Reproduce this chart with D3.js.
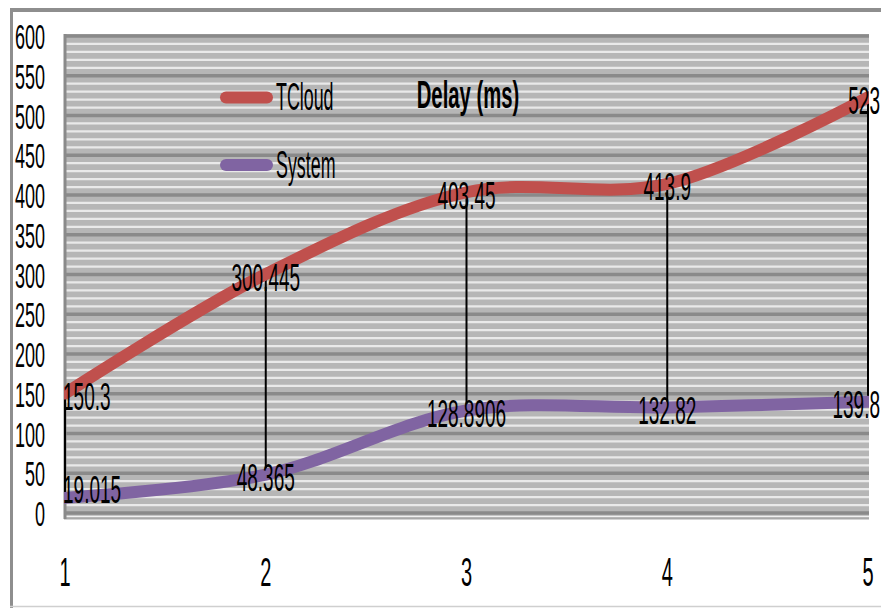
<!DOCTYPE html>
<html>
<head>
<meta charset="utf-8">
<script src="https://cdn.jsdelivr.net/npm/d3@7"></script>
<style>
  body { margin: 0; background: #fff; }
  svg { display: block; font-family: "Liberation Sans", Arial, sans-serif; }
</style>
</head>
<body>
<svg id="chart" width="881" height="608"></svg>
<script>
// data
const categories = [1, 2, 3, 4, 5];
const tcloud = [150.3, 300.445, 403.45, 413.9, 523];
const system = [19.015, 48.365, 128.8906, 132.82, 139.8];
const tcloudLabels = ["150.3", "300.445", "403.45", "413.9", "523"];
const systemLabels = ["19.015", "48.365", "128.8906", "132.82", "139.8"];
const yTicks = [0, 50, 100, 150, 200, 250, 300, 350, 400, 450, 500, 550, 600];
const seriesNames = ["TCloud", "System"];
const seriesColors = ["#c0504d", "#8064a2"];

const svg = d3.select("#chart");

const x = d3.scaleLinear().domain([1, 5]).range([65, 868]);
const y = d3.scaleLinear().domain([0, 600]).range([513, 36]);

// squeezed text, like the reference
function label(g, px, py, str, size, sx, anchor, bold) {
    return g.append("text")
        .attr("transform", "translate(" + px + "," + py + ") scale(" + sx + ",1)")
        .attr("text-anchor", anchor)
        .attr("font-size", size)
        .attr("font-weight", bold ? "bold" : "normal")
        .attr("fill", "#000")
        .text(str);
}

svg.append("clipPath").attr("id", "plotclip")
    .append("rect").attr("x", 64).attr("y", 30).attr("width", 805).attr("height", 489);

// plot area
const plot = svg.append("g");
plot.append("rect")
    .attr("x", 64).attr("y", 34)
    .attr("width", 805).attr("height", 485)
    .attr("fill", "#b6b6b6");

// minor grid every 10
const minor = d3.range(0, 601, 10).filter(v => v % 50 !== 0);
plot.selectAll(".minor").data(minor).enter().append("line")
    .attr("x1", 64).attr("x2", 869)
    .attr("y1", d => y(d)).attr("y2", d => y(d))
    .attr("stroke", "#e9e9e9").attr("stroke-width", 2.2);

// major grid every 50
plot.selectAll(".major").data(yTicks).enter().append("line")
    .attr("x1", 64).attr("x2", 869)
    .attr("y1", d => y(d)).attr("y2", d => y(d))
    .attr("stroke", "#8a8a8a").attr("stroke-width", 3.5);

// floor strip below zero
plot.append("line")
    .attr("x1", 64).attr("x2", 869).attr("y1", 516.5).attr("y2", 516.5)
    .attr("stroke", "#f0f0f0").attr("stroke-width", 1.5);
plot.append("line")
    .attr("x1", 64).attr("x2", 869).attr("y1", 518.5).attr("y2", 518.5)
    .attr("stroke", "#a8a8a8").attr("stroke-width", 2);
plot.append("line")
    .attr("x1", 65).attr("x2", 65).attr("y1", 34).attr("y2", 519)
    .attr("stroke", "#8a8a8a").attr("stroke-width", 3);

// high-low lines
plot.selectAll(".hilo").data(categories).enter().append("line")
    .attr("x1", d => x(d)).attr("x2", d => x(d))
    .attr("y1", (d, i) => y(tcloud[i])).attr("y2", (d, i) => y(system[i]))
    .attr("stroke", "#000").attr("stroke-width", 2);

// series
const line = d3.line()
    .x((d, i) => x(categories[i]))
    .y(d => y(d))
    .curve(d3.curveCatmullRom.alpha(0.5));

const lines = plot.append("g").attr("clip-path", "url(#plotclip)");
[tcloud, system].forEach(function(s, k) {
    lines.append("path")
        .attr("d", line(s))
        .attr("fill", "none")
        .attr("stroke", seriesColors[k])
        .attr("stroke-width", 12)
        .attr("stroke-linecap", "round");
});

// data labels
const labels = svg.append("g");
function drawLabels(vals, texts) {
    vals.forEach(function(v, i) {
        var cx = x(categories[i]);
        var cy = Math.min(y(v) + 3, y(0) - 24);
        var anchor = "middle";
        if (i === 0) { anchor = "start"; cx = cx - 2; }
        if (i === vals.length - 1) { anchor = "end"; cx = 880; }
        label(labels, cx, cy + 13.5, texts[i], 38, 0.5, anchor, false);
    });
}
drawLabels(tcloud, tcloudLabels);
drawLabels(system, systemLabels);

// y axis labels
const yAxis = svg.append("g");
yTicks.forEach(function(t) {
    label(yAxis, 45, y(t) + 13, String(t), 36, 0.5, "end", false);
});

// x axis labels
const xAxis = svg.append("g");
categories.forEach(function(c) {
    label(xAxis, x(c), 586, String(c), 40, 0.5, "middle", false);
});

// legend
const legend = svg.append("g");
const legendY = [97.5, 165];
seriesNames.forEach(function(n, k) {
    legend.append("line")
        .attr("x1", 226).attr("x2", 267)
        .attr("y1", legendY[k]).attr("y2", legendY[k])
        .attr("stroke", seriesColors[k])
        .attr("stroke-width", 12)
        .attr("stroke-linecap", "round");
    label(legend, 276, legendY[k] + 12.5, n, 38, 0.47, "start", false);
});

// title
label(svg, 468, 108, "Delay (ms)", 39, 0.52, "middle", true);

// outer frame
svg.append("line").attr("x1", 10).attr("x2", 881).attr("y1", 10).attr("y2", 10)
    .attr("stroke", "#8e8e8e").attr("stroke-width", 4);
svg.append("line").attr("x1", 11.5).attr("x2", 11.5).attr("y1", 8).attr("y2", 608)
    .attr("stroke", "#8e8e8e").attr("stroke-width", 3);
svg.append("line").attr("x1", 10).attr("x2", 881).attr("y1", 606.5).attr("y2", 606.5)
    .attr("stroke", "#cfcfcf").attr("stroke-width", 1.5);
</script>
</body>
</html>
